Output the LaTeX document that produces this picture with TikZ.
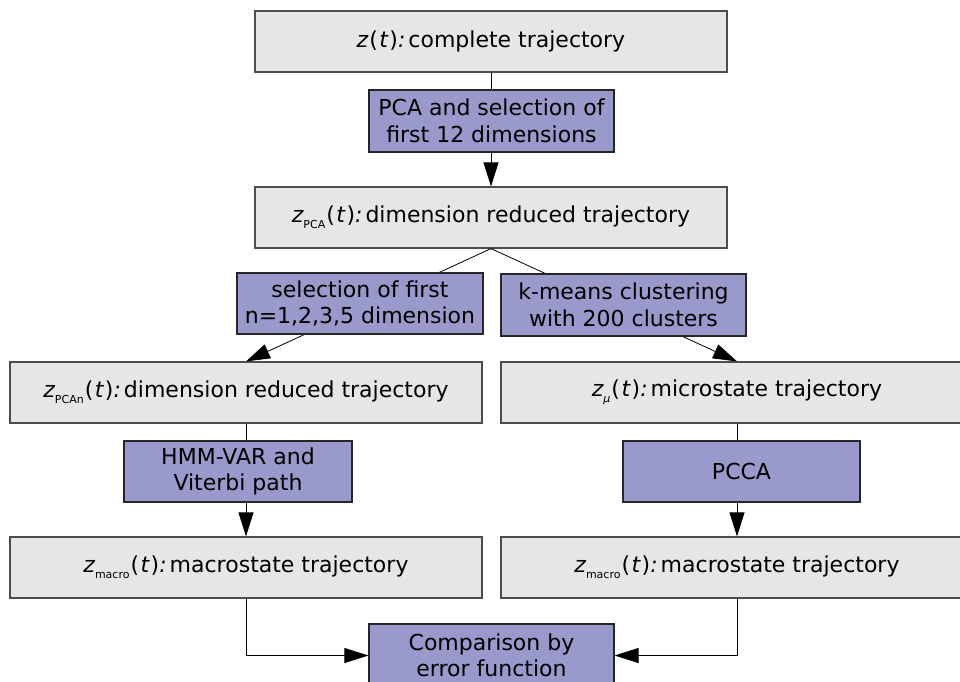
\documentclass[tikz,border=0pt]{standalone}
\usepackage{fontspec}
\setmainfont{DejaVu Sans}
\usetikzlibrary{arrows.meta}

\definecolor{stategray}{HTML}{E6E6E6}
\definecolor{steplav}{HTML}{9999CC}
\definecolor{edgegray}{HTML}{4D4D4D}

% z_{sub}(t): with oblique variables and a small upright subscript
\newcommand\zsubscr[1]{\raisebox{-0.5ex}{\fontsize{11}{11}\selectfont #1}}
\newcommand\zof[1]{{\itshape z}#1\kern1pt(\kern1.5pt{\itshape t}\kern1.5pt){\itshape :}\kern3pt}

\begin{document}
\begin{tikzpicture}[x=1pt,y=-1pt,
  font=\fontsize{22}{26.5}\selectfont,
  statebox/.style={draw=edgegray, line width=1.2pt, fill=stategray,
    minimum width=472pt, minimum height=61pt, inner sep=0pt, align=center},
  procbox/.style={draw=black!85, line width=1.2pt, fill=steplav,
    minimum height=62pt, inner sep=0pt, align=center},
  link/.style={line width=0.8pt, black},
  arr/.style={link, -{Triangle[length=24pt,width=15pt]}}
]
\useasboundingbox (0,0) rectangle (960,681);

% trajectories
\node[statebox] (full) at (491,41.5) {\zof{}complete trajectory};
\node[statebox] (pca)  at (491,217.5) {\zof{\zsubscr{PCA}}dimension reduced trajectory};
\node[statebox] (pcan) at (246,392.5) {\zof{\zsubscr{PCAn}}dimension reduced trajectory};
\node[statebox] (micro) at (737,392.5) {\zof{\zsubscr{\itshape μ}}microstate trajectory};
\node[statebox] (macroA) at (246,567.5) {\zof{\zsubscr{macro}}macrostate trajectory};
\node[statebox] (macroB) at (737,567.5) {\zof{\zsubscr{macro}}macrostate trajectory};

% connectors, drawn first so the step boxes sit on top
\draw[arr] (full.south) -- (pca.north);
\draw[arr] (pca.south) -- (pcan.north);
\draw[arr] (pca.south) -- (micro.north);
\draw[arr] (pcan.south) -- (macroA.north);
\draw[arr] (micro.south) -- (macroB.north);

% processing steps
\node[procbox, minimum width=245pt] (pcastep) at (491.5,121) {PCA and selection of\\first 12 dimensions};
\node[procbox, minimum width=246pt, minimum height=61pt] (select) at (360,303.5) {selection of first\\n=1,2,3,5 dimension};
\node[procbox, minimum width=245pt] (kmeans) at (623.5,305) {k-means clustering\\with 200 clusters};
\node[procbox, minimum width=228pt, minimum height=61pt] (hmm) at (238,471.5) {HMM-VAR and\\Viterbi path};
\node[procbox, minimum width=237pt, minimum height=61pt] (pcca) at (741.5,471.5) {PCCA};
\node[procbox, minimum width=245pt, minimum height=63pt] (cmp) at (491.5,655.5) {Comparison by\\error function};

% merge into the comparison
\draw[arr] (macroA.south) |- (cmp.west);
\draw[arr] (macroB.south) |- (cmp.east);
\end{tikzpicture}
\end{document}
